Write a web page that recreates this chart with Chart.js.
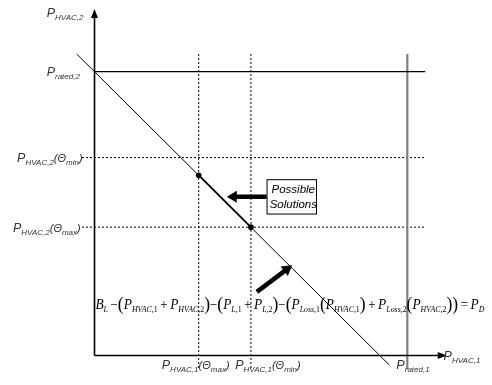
<!DOCTYPE html>
<html>
<head>
<meta charset="UTF-8">
<title>Feasible HVAC power region</title>
<script src="https://cdn.jsdelivr.net/npm/chart.js"></script>
<style>
  body { margin: 0; background: #fff; }
  #wrap { width: 492px; height: 385px; }
</style>
</head>
<body>
<div id="wrap"><canvas id="region" width="492" height="385"></canvas></div>
<script>
// power levels (same units on both axes)
const ratedP1 = 100;          // P_rated,1
const ratedP2 = 100;          // P_rated,2
const p1AtThetaMax = 33.3;    // P_HVAC,1(θmax)
const p1AtThetaMin = 50;      // P_HVAC,1(θmin)
const p2AtThetaMin = 69.7;    // P_HVAC,2(θmin)
const p2AtThetaMax = 45.2;    // P_HVAC,2(θmax)

// balance line end points
const balanceX = [-5.7, 94.3];
const balanceY = [106.2, -3.4];

// ends of the feasible segment on the balance line
const solutionX = [33.3, 50];
const solutionY = [63.5, 45.2];

// axis extents
const axisXMax = 112.6;
const axisYMax = 122;
const gridTop = 106.2;
const gridBottom = -4.6;
const gridLeft = -4;
const gridRight = 105.7;

const seg = (x0, y0, x1, y1) => [{ x: x0, y: y0 }, { x: x1, y: y1 }];
const base = { showLine: true, pointRadius: 0, borderColor: '#000', borderWidth: 1, fill: false };
const dash = [2, 2];

const datasets = [
  { ...base, data: seg(0, 0, axisXMax - 2, 0), borderWidth: 1.6 },
  { ...base, data: seg(0, 0, 0, axisYMax - 2), borderWidth: 1.6 },
  { ...base, data: seg(0, ratedP2, gridRight, ratedP2), borderWidth: 1.2 },
  { ...base, data: seg(ratedP1, gridTop, ratedP1, gridBottom - 0.3), borderColor: '#7f7f7f', borderWidth: 2.2 },
  { ...base, data: seg(gridLeft, p2AtThetaMin, gridRight, p2AtThetaMin), borderDash: dash },
  { ...base, data: seg(gridLeft, p2AtThetaMax, gridRight, p2AtThetaMax), borderDash: dash },
  { ...base, data: seg(p1AtThetaMax, gridTop, p1AtThetaMax, gridBottom), borderDash: dash },
  { ...base, data: seg(p1AtThetaMin, gridTop, p1AtThetaMin, gridBottom), borderDash: dash },
  { ...base, data: balanceX.map((x, i) => ({ x, y: balanceY[i] })), borderWidth: 1 },
  { ...base, data: solutionX.map((x, i) => ({ x, y: solutionY[i] })), borderWidth: 1.8, pointRadius: 2.8, pointBackgroundColor: '#000', pointBorderWidth: 0 }
];

const SANS = '"Liberation Sans", Arial, sans-serif';
const SERIF = '"Liberation Serif", "Times New Roman", serif';
const sansP = { t: 'P', f: 'italic 12.5px ' + SANS };
const sansSub = t => ({ t, f: 'italic 8px ' + SANS, dy: 3 });
const sansTxt = t => ({ t, f: 'italic 11px ' + SANS });

const sP = { t: 'P', f: 'italic 14.5px ' + SERIF };
const sSub = t => ({ t, f: 'italic 8.5px ' + SERIF, dy: 3.5 });
const sNum = t => ({ t, f: '8.5px ' + SERIF, dy: 3.5 });
const sOp = t => ({ t, f: '14px ' + SERIF });
const sPar = t => ({ t, f: '19px ' + SERIF, dy: 1.5 });
const TS = '\u2009';

function runWidth(ctx, runs) {
  let w = 0;
  runs.forEach(r => { ctx.font = r.f; w += ctx.measureText(r.t).width; });
  return w;
}
function drawRuns(ctx, x, y, runs, align) {
  if (align === 'right') x -= runWidth(ctx, runs);
  if (align === 'center') x -= runWidth(ctx, runs) / 2;
  runs.forEach(r => {
    ctx.font = r.f;
    ctx.fillText(r.t, x, y + (r.dy || 0));
    x += ctx.measureText(r.t).width;
  });
}
// draws runs squeezed horizontally so they span at most `width` pixels
function drawRunsFit(ctx, x, y, runs, width) {
  const k = Math.min(1, width / runWidth(ctx, runs));
  ctx.save();
  ctx.translate(x, y);
  ctx.scale(k, 1);
  drawRuns(ctx, 0, 0, runs);
  ctx.restore();
}
function arrowHead(ctx, x0, y0, x1, y1, len, half) {
  const a = Math.atan2(y1 - y0, x1 - x0);
  ctx.beginPath();
  ctx.moveTo(x1, y1);
  ctx.lineTo(x1 - len * Math.cos(a) + half * Math.sin(a), y1 - len * Math.sin(a) - half * Math.cos(a));
  ctx.lineTo(x1 - len * Math.cos(a) - half * Math.sin(a), y1 - len * Math.sin(a) + half * Math.cos(a));
  ctx.closePath();
  ctx.fill();
}
function fatArrow(ctx, x0, y0, x1, y1) {
  const a = Math.atan2(y1 - y0, x1 - x0);
  ctx.lineWidth = 4.5;
  ctx.beginPath();
  ctx.moveTo(x0, y0);
  ctx.lineTo(x1 - 6 * Math.cos(a), y1 - 6 * Math.sin(a));
  ctx.stroke();
  arrowHead(ctx, x0, y0, x1, y1, 10, 6);
}

const annotations = {
  id: 'annotations',
  afterDatasetsDraw(chart) {
    const ctx = chart.ctx;
    const X = v => chart.scales.x.getPixelForValue(v);
    const Y = v => chart.scales.y.getPixelForValue(v);
    ctx.save();
    ctx.fillStyle = '#000';
    ctx.strokeStyle = '#000';

    // axis arrow heads
    arrowHead(ctx, X(0), Y(0), X(axisXMax), Y(0), 9, 3.5);
    arrowHead(ctx, X(0), Y(0), X(0), Y(axisYMax), 9, 3.5);

    // "Possible Solutions" callout
    const bx0 = X(55), bx1 = X(70.8), by0 = Y(62.1), by1 = Y(50);
    ctx.fillStyle = '#fff';
    ctx.fillRect(bx0, by0, bx1 - bx0, by1 - by0);
    ctx.lineWidth = 1;
    ctx.strokeRect(bx0 + 0.5, by0 + 0.5, bx1 - bx0, by1 - by0);
    ctx.fillStyle = '#000';
    ctx.textBaseline = 'alphabetic';
    ctx.font = 'italic 11.5px ' + SANS;
    ctx.textAlign = 'right';
    ctx.fillText('Possible', bx1 - 1, by0 + 14);
    ctx.fillText('Solutions', bx1 + 1, by0 + 29);
    ctx.textAlign = 'left';

    fatArrow(ctx, X(55), Y(55.9), X(42.3), Y(55.9));
    fatArrow(ctx, X(51.9), Y(22.4), X(63.2), Y(31.8));

    // axis and level labels
    ctx.fillStyle = '#333';
    drawRuns(ctx, X(-15.3), Y(119.3), [sansP, sansSub('HVAC,2')]);
    drawRuns(ctx, X(-15.3), Y(98.3), [sansP, sansSub('rated,2')]);
    drawRuns(ctx, X(-3.8), Y(p2AtThetaMin) + 4.5, [sansP, sansSub('HVAC,2'), sansTxt('(Θ'), sansSub('min'), sansTxt(')')], 'right');
    drawRuns(ctx, X(-4.4), Y(p2AtThetaMax) + 4.5, [sansP, sansSub('HVAC,2'), sansTxt('(Θ'), sansSub('max'), sansTxt(')')], 'right');
    drawRuns(ctx, X(p1AtThetaMax) - 3, Y(-4.8), [sansP, sansSub('HVAC,1'), sansTxt('(Θ'), sansSub('max'), sansTxt(')')], 'center');
    drawRuns(ctx, X(p1AtThetaMin) + 17, Y(-4.8), [sansP, sansSub('HVAC,1'), sansTxt('(Θ'), sansSub('min'), sansTxt(')')], 'center');
    drawRuns(ctx, X(96.5), Y(-4.9), [sansP, sansSub('rated,1')]);
    drawRuns(ctx, X(111.6), Y(-1.7), [sansP, sansSub('HVAC,1')]);

    // power balance equation
    ctx.fillStyle = '#000';
    const eq = [
      { t: 'B', f: 'italic 14.5px ' + SERIF }, sSub('L'), sOp(TS + '\u2212'), sPar('('),
      sP, sSub('HVAC'), sNum(',1'), sOp(TS + '+' + TS), sP, sSub('HVAC'), sNum(',2'), sPar(')'),
      sOp('\u2212'), sPar('('), sP, sSub('L'), sNum(',1'), sOp(TS + '+' + TS), sP, sSub('L'), sNum(',2'), sPar(')'),
      sOp('\u2212'), sPar('('), sP, sSub('Loss'), sNum(',1'), sPar('('), sP, sSub('HVAC'), sNum(',1'), sPar(')'),
      sOp(TS + '+' + TS), sP, sSub('Loss'), sNum(',2'), sPar('('), sP, sSub('HVAC'), sNum(',2'), sPar(')'), sPar(')'),
      sOp(TS + '=' + TS), sP, sSub('D')
    ];
    drawRunsFit(ctx, X(0.3), Y(16.5), eq, 389);
    ctx.restore();
  }
};

new Chart(document.getElementById('region'), {
  type: 'scatter',
  data: { datasets },
  options: {
    responsive: false,
    animation: false,
    layout: { padding: 0 },
    plugins: { legend: { display: false }, tooltip: { enabled: false } },
    scales: {
      x: { type: 'linear', display: false, min: -28.93, max: 125.79 },
      y: { type: 'linear', display: false, min: -8.97, max: 123.79 }
    }
  },
  plugins: [annotations]
});
</script>
</body>
</html>
